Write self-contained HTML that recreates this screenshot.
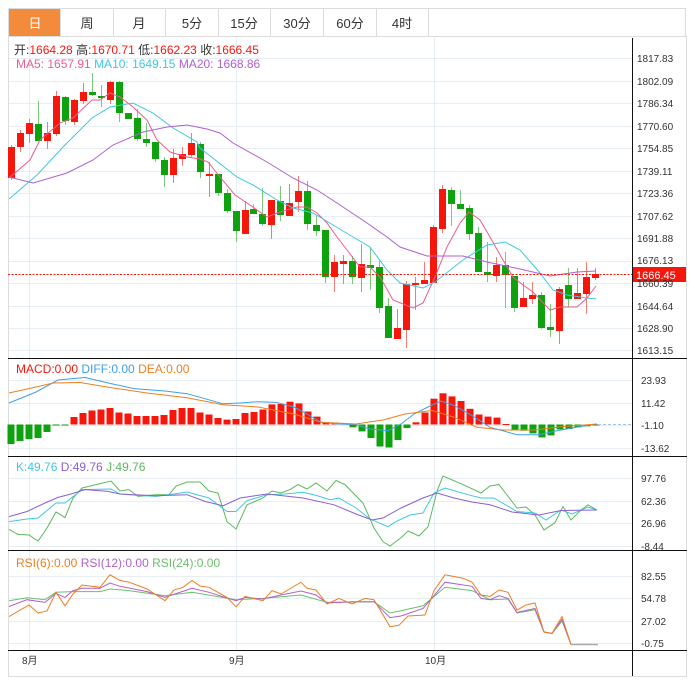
<!DOCTYPE html><html><head><meta charset="utf-8"><style>
body{margin:0;background:#fff;width:695px;height:683px;overflow:hidden;font-family:"Liberation Sans","Noto Sans CJK SC",sans-serif}
svg{position:absolute;left:0;top:0}
</style></head><body>
<svg id="s" width="695" height="683" xmlns="http://www.w3.org/2000/svg" font-family="Liberation Sans, Noto Sans CJK SC, sans-serif">
<g id="grid" stroke="#e6edf3" stroke-width="1"></g>
<rect x="8.5" y="8.5" width="677" height="28" fill="#fff" stroke="#dcdcdc"/>
<rect x="9" y="9" width="51" height="27" fill="#f28c3c"/>
<g stroke="#dcdcdc"><line x1="60.5" y1="9" x2="60.5" y2="36"/><line x1="113.5" y1="9" x2="113.5" y2="36"/><line x1="165.5" y1="9" x2="165.5" y2="36"/><line x1="218.5" y1="9" x2="218.5" y2="36"/><line x1="270.5" y1="9" x2="270.5" y2="36"/><line x1="323.5" y1="9" x2="323.5" y2="36"/><line x1="376.5" y1="9" x2="376.5" y2="36"/><line x1="428.5" y1="9" x2="428.5" y2="36"/></g>
<g font-size="13" text-anchor="middle" fill="#333"><text x="35" y="28" fill="#fff">日</text><text x="87" y="28">周</text><text x="139" y="28">月</text><text x="192" y="28">5分</text><text x="244" y="28">15分</text><text x="297" y="28">30分</text><text x="350" y="28">60分</text><text x="402" y="28">4时</text></g>
<g stroke="#dcdcdc"><line x1="8.5" y1="36" x2="8.5" y2="676"/><line x1="686.5" y1="36" x2="686.5" y2="676"/><line x1="8" y1="676.5" x2="687" y2="676.5"/></g>
<g stroke="#111"><line x1="8" y1="358.5" x2="687" y2="358.5"/><line x1="8" y1="456.5" x2="687" y2="456.5"/><line x1="8" y1="550.5" x2="687" y2="550.5"/><line x1="8" y1="650.5" x2="687" y2="650.5"/><line x1="632.5" y1="38" x2="632.5" y2="676"/></g>
<g id="plot"></g>
<line x1="8" y1="274.5" x2="632" y2="274.5" stroke="#f5170c" stroke-dasharray="2,1.5"/>
<line x1="598" y1="424.5" x2="632" y2="424.5" stroke="#9cc8ee" stroke-dasharray="3,2"/>
<rect x="633" y="267" width="53" height="15" fill="#f5170c"/>
<text x="636" y="279" font-size="11" fill="#fff">1666.45</text>
<g font-size="10" fill="#333" id="ax">
<text x="637" y="62">1817.83</text><text x="637" y="85">1802.09</text><text x="637" y="107">1786.34</text><text x="637" y="130">1770.60</text><text x="637" y="152">1754.85</text><text x="637" y="175">1739.11</text><text x="637" y="197">1723.36</text><text x="637" y="220">1707.62</text><text x="637" y="242">1691.88</text><text x="637" y="264">1676.13</text><text x="637" y="287">1660.39</text><text x="637" y="310">1644.64</text><text x="637" y="332">1628.90</text><text x="637" y="354">1613.15</text>
<text x="641" y="384">23.93</text><text x="641" y="407">11.42</text><text x="641" y="429">-1.10</text><text x="641" y="452">-13.62</text>
<text x="641" y="482">97.76</text><text x="641" y="505">62.36</text><text x="641" y="527">26.96</text><text x="641" y="550">-8.44</text>
<text x="641" y="580">82.55</text><text x="641" y="602">54.78</text><text x="641" y="625">27.02</text><text x="641" y="647">-0.75</text>
<text x="22" y="664">8月</text><text x="229" y="664">9月</text><text x="425" y="664">10月</text>
</g>
<g font-size="12">
<text x="14" y="54" fill="#333">开:<tspan fill="#f5170c">1664.28</tspan>  高:<tspan fill="#f5170c">1670.71</tspan>  低:<tspan fill="#f5170c">1662.23</tspan>  收:<tspan fill="#f5170c">1666.45</tspan></text>
<text x="16" y="68" fill="#ee5b8c">MA5: 1657.91 <tspan fill="#3ec8e0">MA10: 1649.15</tspan> <tspan fill="#b05fcf">MA20: 1668.86</tspan></text>
<text x="16" y="373" fill="#f5170c">MACD:0.00 <tspan fill="#3ca0e8">DIFF:0.00</tspan> <tspan fill="#f07d1e">DEA:0.00</tspan></text>
<text x="16" y="471" fill="#3ec8e0">K:49.76 <tspan fill="#8b5fd0">D:49.76</tspan> <tspan fill="#5cb85c">J:49.76</tspan></text>
<text x="16" y="567" fill="#f07d1e">RSI(6):0.00 <tspan fill="#b05fcf">RSI(12):0.00</tspan> <tspan fill="#6cbf6c">RSI(24):0.00</tspan></text>
</g>
</svg>
<script>
var NS="http://www.w3.org/2000/svg",P=document.getElementById('plot'),G=document.getElementById('grid');
function el(t,a,p){var e=document.createElementNS(NS,t);for(var k in a)e.setAttribute(k,a[k]);(p||P).appendChild(e);return e}
[58,81,103,126,148,171,193,216,238,261,283,306,328,350,380,403,425,448,478,501,523,546,576,598,621,643].forEach(function(y){el('line',{x1:9,x2:632,y1:y+.5,y2:y+.5},G)});
[29,236,434].forEach(function(x){el('line',{x1:x+.5,x2:x+.5,y1:38,y2:650},G)});
var C=[[11,147,178,145,180,1],[20,133,147,130,152,1],[29,123,134,119,143,1],[38,124,141,101,141,0],[47,133,141,122,149,1],[56,96,134,91,136,1],[65,97,121,96,125,0],[74,100,122,99,125,1],[83,92,101,83,104,1],[92,92,95,73,96,0],[101,96,98,85,107,0],[110,82,100,81,104,1],[119,82,113,81,122,0],[128,113,119,113,119,0],[137,118,139,109,141,0],[146,139,143,123,147,0],[155,142,159,142,162,0],[164,160,175,157,187,0],[173,158,175,149,183,1],[182,154,159,147,166,1],[191,143,155,133,157,1],[200,144,172,142,178,0],[209,174,176,162,197,1],[218,174,193,174,196,0],[227,193,211,189,213,0],[236,211,231,211,242,0],[245,210,234,201,234,1],[253,209,214,204,214,0],[262,214,224,188,226,0],[271,200,225,200,239,1],[280,201,215,186,221,0],[289,203,216,184,216,1],[298,191,202,176,212,1],[307,191,224,181,230,0],[316,225,231,215,236,0],[325,230,277,230,283,0],[334,262,277,255,292,1],[343,261,264,255,284,1],[352,261,277,256,284,0],[361,264,278,244,292,1],[370,265,268,248,290,0],[379,267,308,261,313,0],[388,306,338,298,338,0],[397,328,339,309,339,1],[406,284,330,281,348,1],[415,283,285,277,310,1],[424,280,284,262,284,1],[433,227,283,225,283,1],[442,189,229,185,233,1],[451,190,204,187,226,0],[460,204,209,190,209,0],[469,208,234,205,240,0],[478,233,272,227,272,0],[487,272,275,242,282,0],[496,265,276,257,282,1],[505,265,275,252,308,0],[514,276,308,276,312,0],[523,298,307,282,307,1],[532,295,299,282,304,1],[541,295,328,292,329,0],[550,327,330,304,337,0],[559,289,331,287,344,1],[568,285,299,268,307,0],[577,293,299,268,299,1],[586,277,294,262,314,1],[595,274,278,268,280,1]];
C.forEach(function(c){var col=c[5]?'#f5170c':'#0ea20e',wc=c[5]?'#f47a74':'#7cc97c';
el('line',{x1:c[0]+.5,x2:c[0]+.5,y1:c[3],y2:c[4],stroke:wc});
el('rect',{x:c[0]-3,y:c[1],width:7,height:Math.max(2,c[2]-c[1]),fill:col});});
function pl(s,col,w){el('polyline',{points:s,fill:'none',stroke:col,'stroke-width':w||1})}
pl("9,178 30,160 40,140 60,123 73,118 92,100 100,100 110,93 120,97 133,107 147,120 157,140 170,152 187,157 200,159 208,162 220,177 235,195 247,203 267,217 280,212 297,207 307,207 317,213 327,223 337,237 347,250 360,267 370,267 380,277 393,300 413,308 423,303 435,277 447,247 460,223 469,212 480,220 490,237 503,260 513,277 523,285 533,292 550,310 560,307 577,307 587,298 596,286","#ee5b8c");
pl("9,199 37,175 63,147 92,118 110,107 133,103 153,113 173,128 197,142 200,148 237,177 253,185 277,200 293,208 313,213 333,225 353,237 370,247 387,270 400,283 423,288 435,282 463,260 487,245 505,242 520,250 540,273 553,290 567,295 587,298 596,299","#3ec8e0");
pl("9,177 33,183 67,173 93,160 113,145 143,132 167,127 187,125 207,129 220,133 233,143 267,162 293,178 317,190 340,205 367,223 387,237 400,247 427,256 463,256 487,262 520,269 550,276 577,272 596,271","#b05fcf");
var H=[[11,444],[20,441],[29,439],[38,438],[47,432],[56,425],[65,425],[74,417],[83,413],[92,410.5],[101,409.5],[110,408],[119,412.5],[128,413.5],[137,416],[146,416],[155,416],[164,415],[173,410],[182,408],[191,408],[200,412.5],[209,414.5],[218,418],[227,419.6],[236,419],[245,413],[254,412],[263,409.5],[272,404.4],[281,404],[290,401.7],[299,403.4],[308,411.5],[317,416.6],[326,422.6],[335,422.6],[344,423.5],[353,427.3],[362,431.4],[371,438],[380,446.5],[389,447.5],[398,440],[407,428],[416,422.3],[425,412.5],[434,398.7],[443,393.3],[452,396.4],[461,401],[470,408.8],[479,414.5],[488,416.6],[497,417.6],[506,424],[515,430],[524,430.7],[533,433.4],[542,437.4],[551,435.4],[560,429.4],[569,429],[578,427.3],[587,426.3],[596,425]];
H.forEach(function(h,i){var z=424.5,up=h[1]<z;el('rect',{x:h[0]-3.5,y:Math.min(h[1],z),width:7,height:Math.max(1,Math.abs(h[1]-z)),fill:up?'#f5170c':'#0ea20e'})});
pl("9,403 36,392 58,380 85,377.5 111,383.6 134,388.6 165,391 187,393.7 205,398.7 223,403.8 240,403 258,401.7 276,402.4 294,407 307,414 321,422.3 338,424 356,424.6 370,429 388,430.7 401,424 414,414 428,407 441,401 454,405.5 472,415.6 490,427.3 517,434.7 539,434.7 557,430.7 579,426.7 597,424","#3ca0e8");
pl("9,393 36,387 53,383 80,382.5 111,387.6 147,393 187,397.7 223,404.8 258,407 294,414 321,422.3 356,424 383,420 405,414 432,410.5 454,417.2 477,427.3 503,430 535,430 561,426.7 597,424","#f07d1e");
pl("9,529.4 18,534.4 29,535 38,541 47,528 56,512 65,517.6 73,498 82,488 111,481 120,491 129,489.6 138,496.4 156,494.7 169,494.7 176,486 187,482 200,482 209,491 218,493 227,521.6 236,529 247,504.8 263,498 272,491 281,493 290,489.6 298,484.6 307,489 316,483 327,491 336,480.5 345,484.6 363,503 374,528 383,541.8 390,546 401,537.8 408,531 419,536 428,526.7 437,491.3 443,476 463,484.6 481,493 490,486 499,484.6 517,508 526,507 535,515 544,530 555,522.6 563,506.5 571,520 581,510 588,504.8 597,510","#5cb85c");
pl("9,521.6 27,519 38,518 56,503 65,503 82,489.6 111,489 120,494 138,495.4 156,496.4 169,494.7 187,492 209,498 227,511.5 236,511.5 247,500.7 267,494.7 285,494 303,492.3 316,495.4 330,499.7 339,498 356,508 370,519 388,526.7 396,521.6 410,515 423,513 434,493 445,488 468,494.7 481,498 494,498 517,511.5 535,513 546,520 561,510 572,514 588,507 597,510","#3ec8e0");
pl("9,516.6 27,511.5 45,503 58,497.4 71,494 85,489.6 107,491.3 120,494 156,495.7 187,494.7 205,501.4 223,505.8 240,498 267,494 303,498 334,504.8 356,514 372,520 383,518 401,508 423,498 437,493 454,498 472,502 490,504.8 512,512 539,515 561,510.5 597,510","#8b5fd0");
pl("9,600.7 27,597.7 45,599.7 56,592.3 73,591.6 100,591.6 110,589 129,590.6 165,595.7 192,592.3 236,599.7 263,598.4 301,595 327,602.4 374,601.7 390,613 401,610.8 423,605.8 445,587.3 472,590.6 490,599.7 508,599 517,613 535,609.8 544,632 552,633.4 562,621 571,644.5 598,644.5","#6cbf6c");
pl("9,606.5 27,599.7 45,602.4 56,593.3 65,597.4 73,590.6 82,588.3 100,588.3 110,583 120,586.3 147,591.6 165,597.4 192,588.3 209,592.3 236,600.7 245,597.4 263,599 281,595 301,591 316,595 327,603 352,601.7 374,601.7 390,617.6 401,616 423,608.5 434,595.7 445,582.2 472,586.3 481,598.4 490,599.7 499,595.7 508,598.4 517,612.5 535,608.5 544,632 552,633.4 562,619.3 571,644.5 598,644.5","#b05fcf");
pl("9,616.6 29,605 38,613 47,611 56,592.3 65,605.8 73,594 82,585 100,587.3 110,574.8 120,580.5 129,582.2 147,589 165,600.7 174,590 183,587.3 192,580.5 200,586 209,587.3 227,597.4 236,606.8 245,596.4 263,600.7 272,590.6 281,594 301,582.2 307,588.3 316,590 327,604 339,598.4 352,604 365,598.4 374,599.7 390,626.7 399,625.3 408,616 425,615 434,590.6 445,574.8 463,578.2 472,582.2 481,595 490,596.4 499,590 508,592.3 517,610 526,605 535,603 544,632 552,633.4 562,616.6 571,644.5 598,644.5","#f07d1e");
el('line',{x1:571,x2:598,y1:644.5,y2:644.5,stroke:'#aaa','stroke-width':1.5});
</script>
</body></html>
